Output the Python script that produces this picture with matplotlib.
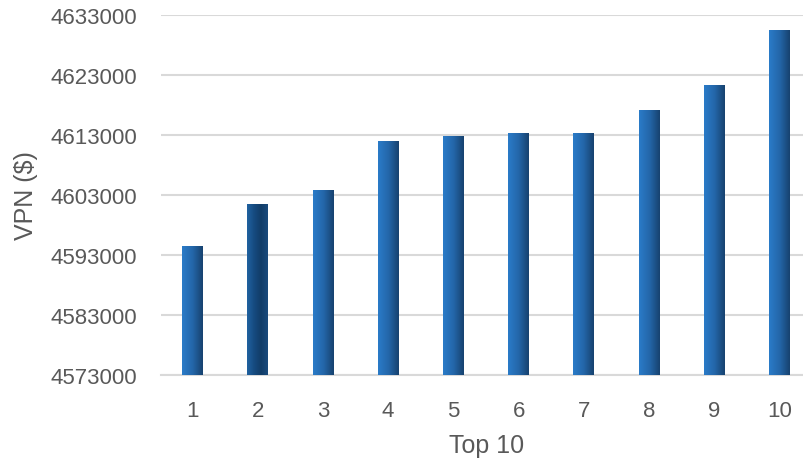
import numpy as np
import matplotlib.pyplot as plt
from matplotlib.colors import LinearSegmentedColormap
from matplotlib.patches import Rectangle

## data
ranks = [1, 2, 3, 4, 5, 6, 7, 8, 9, 10]
vpn = [4594500, 4601500, 4603800, 4612000, 4612800, 4613300, 4613300, 4617100, 4621300, 4630450]
yticks = [4573000, 4583000, 4593000, 4603000, 4613000, 4623000, 4633000]

plt.rcParams['font.family'] = ['Liberation Sans', 'DejaVu Sans']
textColor = '#595959'
gridColor = '#d9d9d9'

fig = plt.figure(figsize=(8.04, 4.64), dpi=100)
ax = fig.add_axes([161 / 804, 88 / 464, 643 / 804, 360.3 / 464])

yMin, yMax = yticks[0], yticks[-1]
ax.set_ylim(yMin, yMax)
ax.set_xlim(0.517, 10.376)

## gradient colour maps
normalCmap = LinearSegmentedColormap.from_list('normal', ['#2a7bc8', '#2467aa', '#17426f'])
darkCmap = LinearSegmentedColormap.from_list('dark', ['#2062a0', '#164b80', '#113c68', '#1a4a7c'])
grad = np.linspace(0, 1, 64).reshape(1, -1)

barWidth = 0.32
bars = ax.bar(ranks, np.array(vpn) - yMin, bottom=yMin, width=barWidth, color='none', zorder=3)
for i, bar in enumerate(bars):
	x0, y0 = bar.get_x(), bar.get_y()
	w, h = bar.get_width(), bar.get_height()
	cmap = darkCmap if i == 1 else normalCmap
	img = ax.imshow(grad, cmap=cmap, aspect='auto', extent=[x0, x0 + w, y0, y0 + h], zorder=3)
	clip = Rectangle((x0, y0), w, h, transform=ax.transData)
	img.set_clip_path(clip)

## grid and spines
ax.set_yticks(yticks)
ax.set_yticklabels([str(v) for v in yticks])
ax.set_xticks(ranks)
ax.set_xticklabels([str(r) for r in ranks])
ax.yaxis.grid(True, color=gridColor, linewidth=1.5, zorder=0)
ax.set_axisbelow(True)
for side in ['top', 'right', 'left']:
	ax.spines[side].set_visible(False)
ax.spines['bottom'].set_color(gridColor)
ax.spines['bottom'].set_linewidth(1.5)
ax.tick_params(axis='both', length=0, labelsize=16, labelcolor=textColor)
ax.tick_params(axis='y', pad=17)
ax.tick_params(axis='x', pad=18)

## axis titles
fig.text(26 / 804, 1 - 196 / 464, 'VPN ($)', rotation=90, ha='center', va='center', fontsize=18, color=textColor)
fig.text(487 / 804, 1 - 446 / 464, 'Top 10', ha='center', va='center', fontsize=18, color=textColor)

fig.savefig('out.png', dpi=100)
